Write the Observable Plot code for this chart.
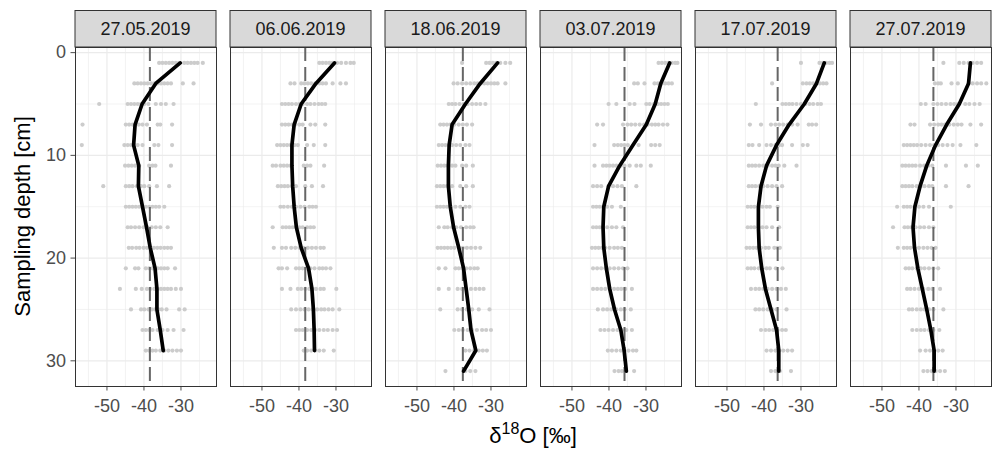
<!DOCTYPE html>
<html><head><meta charset="utf-8">
<script src="https://cdn.jsdelivr.net/npm/d3@7"></script>
<script src="https://cdn.jsdelivr.net/npm/@observablehq/plot@0.6"></script>
<style>body{margin:0;background:#fff} #chart{width:995px;height:450px}</style>
</head><body><div id="chart"></div>
<script>
// ---- data ----
const dates = ["27.05.2019", "06.06.2019", "18.06.2019", "03.07.2019", "17.07.2019", "27.07.2019"];
const depths = [1, 3, 5, 7, 9, 11, 13, 15, 17, 19, 21, 23, 25, 27, 29, 31];
const xTicks = [-50, -40, -30];
const xMinor = [-55, -45, -35, -25];
const yTicks = [0, 10, 20, 30];
const yMinor = [5, 15, 25];

// dashed reference value per sampling date
const refLine = [-38.4, -38.3, -37.6, -35.8, -36.3, -36.1];

// mean profiles (by depth, starting at 1 cm)
const line1 = [-30.2, -36.8, -40.5, -42.4, -42.8, -41.4, -41.5, -40.4, -39.3, -38.3, -37.0, -36.5, -36.5, -35.6, -34.8];
const line2 = [-30.4, -35.4, -39.4, -41.3, -41.9, -41.9, -41.7, -41.3, -40.7, -39.4, -37.4, -36.5, -36.1, -35.9, -35.8];
const line3 = [-28.2, -32.9, -36.9, -40.5, -41.3, -41.5, -41.5, -41.0, -40.1, -38.7, -37.4, -36.7, -36.0, -35.4, -34.1, -37.4];
const line4 = [-23.6, -26.0, -27.5, -29.9, -33.5, -37.1, -40.1, -41.4, -41.6, -41.4, -40.7, -39.8, -38.5, -36.8, -35.9, -35.3];
const line5 = [-23.7, -25.8, -29.1, -33.2, -36.6, -39.3, -40.8, -41.5, -41.5, -41.3, -40.6, -39.6, -38.1, -36.6, -36.0, -36.0];
const line6 = [-26.1, -26.6, -29.1, -32.5, -35.5, -37.9, -39.7, -41.1, -41.6, -41.2, -40.3, -39.1, -37.9, -36.8, -35.9, -35.9];

// individual samples: [depth, values]
const pts1 = [
  [1, [-35.9,-35.0,-34.1,-33.2,-32.3,-31.4,-30.5,-29.1,-28.2,-27.3,-26.4,-25.5,-24.1]],
  [3, [-42.6,-41.7,-40.8,-39.9,-39.0,-38.1,-37.2,-36.3,-35.4,-34.5,-33.6,-32.7,-29.5,-26.6]],
  [5, [-52.1,-44.4,-43.5,-42.6,-41.7,-40.8,-39.9,-38.8,-36.8,-35.4,-34.1,-32.0]],
  [7, [-56.6,-44.9,-44.0,-43.1,-42.2,-41.4,-40.4,-39.2,-36.3,-35.6,-32.4]],
  [9, [-56.8,-45.3,-44.4,-43.5,-42.6,-41.7,-40.4,-37.2,-36.1,-32.4]],
  [11, [-45.1,-44.2,-43.3,-42.4,-41.3,-38.6,-37.7,-36.9,-32.7]],
  [13, [-51.0,-44.9,-44.0,-43.1,-41.9,-40.8,-39.9,-38.6,-36.5,-33.2]],
  [15, [-44.9,-44.0,-43.1,-42.2,-41.3,-40.4,-39.5,-38.6,-37.7,-36.8,-35.9,-34.5]],
  [17, [-44.4,-43.5,-42.4,-41.3,-40.1,-39.0,-37.9,-36.8,-35.6,-33.6]],
  [19, [-44.1,-43.2,-42.1,-41.2,-40.1,-39.2,-38.2,-37.3,-36.4,-35.5,-34.5,-33.6,-32.7]],
  [21, [-44.9,-42.4,-41.5,-39.5,-38.6,-37.7,-36.3,-35.4,-34.5,-33.6,-31.6]],
  [23, [-46.5,-42.2,-40.6,-39.2,-38.3,-37.2,-36.3,-35.4,-34.5,-33.6,-32.7,-31.4,-30.0]],
  [25, [-43.5,-40.8,-39.9,-38.8,-37.9,-37.0,-36.1,-35.2,-33.9,-30.5,-29.0]],
  [27, [-40.4,-39.5,-38.6,-37.7,-36.3,-35.0,-33.6,-32.0,-29.3]],
  [29, [-39.5,-38.6,-37.7,-36.8,-35.6,-34.5,-33.4,-32.3,-31.1,-30.0]]
];
const pts2 = [
  [1, [-34.5,-33.6,-32.7,-31.8,-30.9,-29.7,-28.6,-27.3,-26.1,-25.2]],
  [3, [-42.3,-41.2,-39.4,-38.5,-37.6,-36.7,-35.6,-34.5,-33.6,-32.7,-30.9,-28.8,-27.3]],
  [5, [-44.6,-43.7,-42.8,-41.9,-40.8,-39.9,-39.0,-37.8,-36.9,-35.8,-34.7,-33.8,-32.9]],
  [7, [-44.6,-43.7,-42.8,-41.9,-41.0,-39.9,-39.0,-36.9,-35.6,-32.9]],
  [9, [-45.9,-45.0,-44.1,-43.2,-42.3,-41.2,-40.3,-37.8,-36.0,-32.9]],
  [11, [-47.1,-46.2,-45.0,-44.1,-43.2,-42.3,-38.7,-37.8,-36.9,-33.2]],
  [13, [-45.7,-44.8,-43.9,-43.0,-41.9,-40.8,-38.3,-36.5,-33.5]],
  [15, [-45.0,-44.1,-43.0,-41.9,-40.8,-39.6,-38.5,-37.2,-36.3,-35.4]],
  [17, [-47.1,-44.4,-43.5,-42.6,-41.7,-40.8,-39.9,-39.0,-37.8,-36.9,-36.0]],
  [19, [-46.8,-44.6,-43.5,-42.1,-41.0,-39.9,-38.7,-37.6,-36.5,-35.4,-34.2,-33.3]],
  [21, [-45.5,-44.6,-43.2,-40.8,-39.9,-39.0,-38.1,-36.9,-35.8,-34.5,-33.6,-32.7,-31.5]],
  [23, [-44.6,-42.3,-40.3,-39.4,-38.3,-37.2,-36.3,-35.4,-34.2,-33.3,-29.9]],
  [25, [-42.1,-40.8,-39.6,-38.5,-37.4,-36.3,-35.1,-34.0,-33.1,-32.0,-30.9,-29.1]],
  [27, [-40.8,-39.9,-39.0,-37.8,-36.7,-35.6,-34.5,-33.3,-32.2,-30.9,-29.7]],
  [29, [-38.7,-37.8,-36.7,-35.6,-34.5,-33.3,-30.6]]
];
const pts3 = [
  [1, [-37.8,-31.3,-30.4,-29.5,-28.6,-27.5,-26.1,-24.8]],
  [3, [-40.1,-39.0,-37.8,-36.7,-35.6,-34.5,-33.6,-32.7,-31.8,-30.9,-30.0,-29.1,-28.2,-26.1]],
  [5, [-41.4,-40.5,-39.6,-38.5,-37.4,-36.3,-35.1,-34.0,-32.9,-31.5]],
  [7, [-43.7,-42.8,-41.9,-41.0,-39.9,-38.7,-37.6,-36.5,-35.1]],
  [9, [-44.1,-43.2,-42.3,-41.4,-40.5,-39.4,-38.3,-36.9,-35.8]],
  [11, [-44.4,-43.5,-42.6,-41.7,-40.5,-39.6,-37.8,-36.7,-34.9]],
  [13, [-44.6,-43.7,-42.8,-41.9,-40.5,-38.3,-36.7,-34.9]],
  [15, [-44.6,-43.7,-42.8,-41.9,-40.8,-39.6,-38.3,-36.9,-35.8]],
  [17, [-44.1,-42.6,-41.7,-40.5,-39.4,-38.1,-36.7,-35.6,-34.7]],
  [19, [-44.4,-43.5,-42.6,-41.7,-40.8,-39.9,-38.7,-37.6,-36.5,-35.4,-34.2,-32.9]],
  [21, [-44.1,-42.3,-39.6,-38.7,-37.8,-36.7,-35.6,-34.5,-33.6]],
  [23, [-44.1,-41.4,-39.0,-37.8,-36.7,-35.4,-34.2,-33.1,-32.0]],
  [25, [-43.7,-39.0,-37.8,-36.5,-35.1,-33.3,-30.4]],
  [27, [-39.9,-38.7,-37.6,-36.3,-35.1,-33.8,-32.4,-31.3,-30.0]],
  [29, [-36.9,-35.8,-34.5,-33.3,-32.2,-31.1]],
  [31, [-42.3,-36.9,-35.6,-34.2]]
];
const pts4 = [
  [1, [-26.6,-25.7,-24.8,-23.9,-23.0,-22.1,-21.5]],
  [3, [-33.2,-32.2,-30.4,-27.7,-26.8,-25.7,-24.8,-23.9,-23.0]],
  [5, [-40.1,-38.0,-34.4,-33.1,-29.9,-29.0,-27.8,-26.8,-25.9,-25.0,-24.1]],
  [7, [-43.2,-41.6,-36.2,-35.0,-34.0,-32.9,-31.7,-30.5,-29.5,-28.4,-27.5,-26.6,-25.4,-24.2]],
  [9, [-43.9,-38.6,-37.6,-36.7,-35.8,-34.9,-32.0,-28.6,-27.5,-26.3]],
  [11, [-43.9,-41.6,-40.7,-39.8,-38.9,-38.0,-36.8,-35.8,-34.4,-32.6,-31.4,-28.7]],
  [13, [-44.3,-43.2,-42.1,-40.1,-38.9,-37.7,-36.5,-32.6]],
  [15, [-44.3,-43.4,-42.5,-41.6,-40.5,-39.2,-36.8]],
  [17, [-44.3,-43.4,-42.5,-41.6,-40.5,-39.2,-38.0,-36.2]],
  [19, [-44.6,-43.7,-42.8,-41.9,-41.0,-39.8,-38.6,-37.6,-36.5]],
  [21, [-44.3,-43.2,-42.1,-41.0,-39.8,-38.6,-37.4,-36.2,-35.0]],
  [23, [-44.3,-43.2,-42.1,-41.0,-39.8,-38.6,-37.6,-36.7,-35.6,-33.8]],
  [25, [-43.0,-41.6,-40.5,-39.4,-38.0,-36.8,-35.8,-34.1]],
  [27, [-42.3,-41.2,-40.1,-38.9,-37.7,-36.5,-35.3,-33.8]],
  [29, [-40.3,-39.2,-38.0,-36.8,-35.8,-34.7,-33.5,-32.6]],
  [31, [-38.5,-37.4,-36.5,-33.2]]
];
const pts5 = [
  [1, [-30.0,-25.0,-24.1,-23.2,-22.3,-21.6]],
  [3, [-37.8,-29.5,-28.5,-27.6,-26.7,-25.8,-24.9,-24.0,-23.1]],
  [5, [-42.2,-35.0,-34.1,-33.2,-32.3,-31.2,-30.0,-28.8,-27.7,-26.7,-25.5,-24.6]],
  [7, [-43.8,-40.8,-38.1,-36.9,-35.9,-34.8,-33.6,-32.4,-30.9,-27.9,-27.0,-25.9]],
  [9, [-44.1,-43.1,-41.3,-39.3,-38.1,-36.9,-35.9,-35.1,-32.4,-29.5,-28.2]],
  [11, [-44.1,-43.2,-42.3,-41.3,-40.2,-39.0,-37.8,-36.9,-36.0,-34.5,-31.2]],
  [13, [-44.1,-43.2,-42.3,-41.3,-40.2,-39.0,-37.8,-36.6,-35.1]],
  [15, [-44.4,-43.5,-42.6,-41.4,-40.4,-39.3,-38.4,-36.3]],
  [17, [-44.4,-43.5,-42.6,-41.4,-40.4,-39.3,-37.8,-35.9]],
  [19, [-44.7,-43.8,-42.9,-42.0,-40.8,-39.6,-38.7,-37.2,-36.3,-35.7]],
  [21, [-44.4,-43.5,-42.6,-41.4,-40.4,-39.3,-38.4,-36.8,-35.0]],
  [23, [-43.5,-42.3,-41.3,-40.2,-39.0,-37.8,-36.6,-35.4,-34.1]],
  [25, [-42.3,-41.3,-40.2,-39.0,-37.8,-36.6,-33.9]],
  [27, [-40.8,-39.6,-38.6,-37.5,-36.3,-35.1,-34.1]],
  [29, [-39.3,-38.1,-36.9,-35.9,-34.8,-33.6,-32.4]],
  [31, [-38.1,-36.9,-35.7,-32.7]]
];
const pts6 = [
  [1, [-33.4,-29.1,-27.9,-26.6,-25.5,-24.3,-23.2]],
  [3, [-35.7,-34.8,-34.1,-31.2,-29.5,-26.6,-25.5,-24.3,-23.2,-21.8]],
  [5, [-39.5,-38.2,-36.1,-35.0,-33.9,-32.7,-31.5,-30.5,-29.5,-27.5,-26.4,-25.0,-23.6]],
  [7, [-42.3,-41.2,-37.0,-35.9,-34.8,-33.9,-33.0,-31.8,-30.6,-29.5,-28.5,-26.1,-23.2]],
  [9, [-44.1,-43.2,-42.3,-41.4,-40.5,-39.4,-38.2,-37.0,-35.9,-34.8,-33.6,-32.3,-30.9,-28.8,-24.5]],
  [11, [-44.5,-43.6,-42.7,-41.8,-40.9,-39.7,-38.6,-37.5,-36.4,-32.7,-27.3,-24.1]],
  [13, [-44.5,-43.6,-42.7,-41.8,-40.6,-39.5,-38.5,-37.3,-36.4,-32.7,-26.6]],
  [15, [-45.9,-44.1,-43.2,-42.3,-41.2,-40.0,-38.8,-37.3,-31.4]],
  [17, [-47.0,-43.9,-43.0,-42.1,-40.9,-39.7,-38.6,-37.3,-36.1]],
  [19, [-45.7,-44.1,-43.2,-42.3,-41.2,-40.0,-38.8,-37.7,-36.6,-35.5]],
  [21, [-43.6,-42.7,-41.8,-40.6,-39.5,-38.5,-37.3,-36.1,-34.8]],
  [23, [-43.2,-42.3,-41.2,-40.0,-38.8,-37.5,-36.4,-34.3]],
  [25, [-42.7,-41.8,-40.6,-39.5,-38.5,-37.3,-36.1,-33.4]],
  [27, [-41.8,-40.6,-39.5,-38.5,-37.3,-36.1,-34.5]],
  [29, [-39.7,-38.2,-37.0,-35.9,-34.8,-33.6]],
  [31, [-38.8,-37.7,-36.6,-35.5,-34.3,-33.0]]
];

// ---- tables built from the arrays ----
const pointSets = [pts1, pts2, pts3, pts4, pts5, pts6];
const lineSets = [line1, line2, line3, line4, line5, line6];
const pointRows = [];
pointSets.forEach((rows, i) => rows.forEach(([d, vals]) => vals.forEach(v => pointRows.push({date: dates[i], depth: d, d18O: v}))));
const lineRows = [];
lineSets.forEach((vals, i) => vals.forEach((v, j) => lineRows.push({date: dates[i], depth: depths[j], d18O: v})));
const refRows = dates.map((d, i) => ({date: d, d18O: refLine[i]}));

const FONT = "'Liberation Sans', Arial, Helvetica, sans-serif";

const chart = Plot.plot({
  width: 995, height: 450,
  marginLeft: 75, marginRight: 3, marginTop: 47, marginBottom: 64,
  style: {fontFamily: FONT, fontSize: "18px", color: "#4d4d4d", background: "#fff", overflow: "visible"},
  fx: {domain: dates, paddingInner: 0.09, paddingOuter: 0, axis: null, label: null},
  x: {domain: [-58.5, -20.4], ticks: xTicks, tickSize: 4.5, tickPadding: 8, label: null, tickFormat: d => d},
  y: {domain: [-0.5, 32.5], reverse: true, ticks: yTicks, tickSize: 4.5, tickPadding: 5, label: null},
  marks: [
    Plot.ruleX(xMinor, {stroke: "#EBEBEB", strokeWidth: 0.6}),
    Plot.ruleY(yMinor, {stroke: "#EBEBEB", strokeWidth: 0.6}),
    Plot.ruleX(xTicks, {stroke: "#EBEBEB", strokeWidth: 1.2}),
    Plot.ruleY(yTicks, {stroke: "#EBEBEB", strokeWidth: 1.2}),
    Plot.dot(pointRows, {fx: "date", x: "d18O", y: "depth", r: 2.1, fill: "#CCCCCC", stroke: null}),
    Plot.ruleX(refRows, {fx: "date", x: "d18O", stroke: "#666666", strokeWidth: 2, strokeDasharray: "14 6"}),
    Plot.line(lineRows, {fx: "date", x: "d18O", y: "depth", stroke: "#000", strokeWidth: 3.7, strokeLinejoin: "round"}),
    Plot.frame({stroke: "#333333", strokeWidth: 1})
  ]
});
document.getElementById("chart").appendChild(chart);

// ---- strips and axis titles ----
const svg = d3.select(chart.tagName.toLowerCase() === "svg" ? chart : chart.querySelector("svg"));
const fx = chart.scale("fx");
const strips = svg.append("g");
dates.forEach(d => {
  const x0 = fx.apply(d);
  const bw = fx.bandwidth;
  strips.append("rect").attr("x", x0).attr("y", 10.5).attr("width", bw).attr("height", 36.5)
    .attr("fill", "#D9D9D9").attr("stroke", "#333333").attr("stroke-width", 1);
  strips.append("text").attr("x", x0 + bw / 2).attr("y", 29).attr("text-anchor", "middle")
    .attr("dominant-baseline", "central").attr("fill", "#1A1A1A")
    .style("font-family", FONT).style("font-size", "18px").text(d);
});
const xt = svg.append("text").attr("x", 533).attr("y", 443).attr("text-anchor", "middle")
  .attr("fill", "#000").style("font-family", FONT).style("font-size", "22px");
xt.append("tspan").text("δ");
xt.append("tspan").attr("dy", -9).style("font-size", "16px").text("18");
xt.append("tspan").attr("dy", 9).text("O [‰]");
svg.append("text").attr("transform", "translate(30,216.5) rotate(-90)").attr("text-anchor", "middle")
  .attr("fill", "#000").style("font-family", FONT).style("font-size", "22px").text("Sampling depth [cm]");
</script>
</body></html>
